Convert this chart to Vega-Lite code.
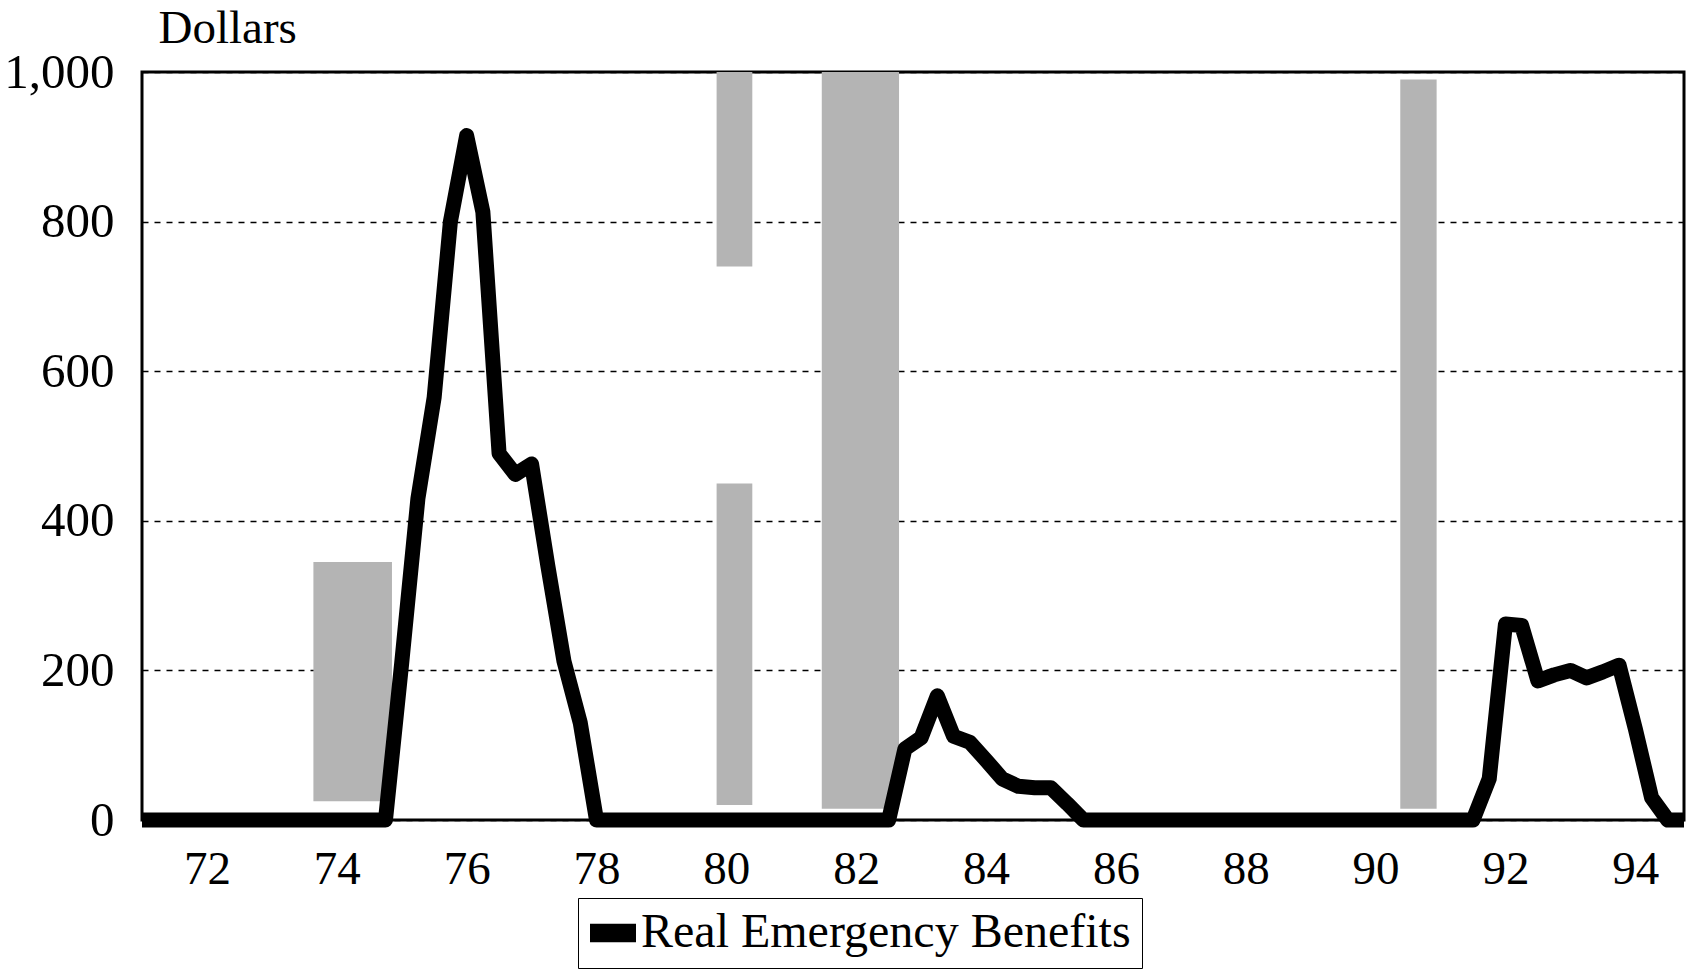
{
  "$schema": "https://vega.github.io/schema/vega-lite/v6.json",
  "width": 1542,
  "height": 748,
  "autosize": {"type": "none"},
  "padding": {"left": 142, "top": 72, "right": 20, "bottom": 154},
  "background": "white",
  "config": {
    "view": {"stroke": "black", "strokeWidth": 3},
    "font": "Liberation Serif",
    "axisX": {"grid": false, "ticks": false, "domain": false, "labelFontSize": 47, "labelFont": "Liberation Serif", "labelColor": "black", "labelPadding": 26, "labelFlush": false},
    "axisY": {"grid": true, "gridDash": [6, 6], "gridColor": "black", "gridWidth": 1.3, "gridOpacity": 1, "ticks": false, "domain": false, "labelFontSize": 49, "labelFont": "Liberation Serif", "labelColor": "black", "labelPadding": 28, "labelFlush": false, "titleFontSize": 47, "titleFont": "Liberation Serif", "titleFontWeight": "normal", "titleColor": "black", "titleAngle": 0, "titleAlign": "left", "titleBaseline": "alphabetic", "titleX": 16, "titleY": -30, "zindex": 1}
  },
  "datasets": {
    "bands": [
      {"start": 73.64, "end": 74.85, "lo": 25, "hi": 345},
      {"start": 79.85, "end": 80.4, "lo": 20, "hi": 450},
      {"start": 79.85, "end": 80.4, "lo": 740, "hi": 1000},
      {"start": 81.47, "end": 82.66, "lo": 15, "hi": 1000},
      {"start": 90.38, "end": 90.94, "lo": 15, "hi": 990}
    ],
    "benefits": [
      {"year": 71.0, "dollars": 0, "series": "Real Emergency Benefits"},
      {"year": 74.75, "dollars": 0, "series": "Real Emergency Benefits"},
      {"year": 75.0, "dollars": 210, "series": "Real Emergency Benefits"},
      {"year": 75.25, "dollars": 430, "series": "Real Emergency Benefits"},
      {"year": 75.5, "dollars": 565, "series": "Real Emergency Benefits"},
      {"year": 75.75, "dollars": 800, "series": "Real Emergency Benefits"},
      {"year": 76.0, "dollars": 915, "series": "Real Emergency Benefits"},
      {"year": 76.25, "dollars": 813, "series": "Real Emergency Benefits"},
      {"year": 76.5, "dollars": 490, "series": "Real Emergency Benefits"},
      {"year": 76.75, "dollars": 462, "series": "Real Emergency Benefits"},
      {"year": 77.0, "dollars": 476, "series": "Real Emergency Benefits"},
      {"year": 77.25, "dollars": 340, "series": "Real Emergency Benefits"},
      {"year": 77.5, "dollars": 212, "series": "Real Emergency Benefits"},
      {"year": 77.75, "dollars": 130, "series": "Real Emergency Benefits"},
      {"year": 78.0, "dollars": 0, "series": "Real Emergency Benefits"},
      {"year": 82.5, "dollars": 0, "series": "Real Emergency Benefits"},
      {"year": 82.75, "dollars": 95, "series": "Real Emergency Benefits"},
      {"year": 83.0, "dollars": 110, "series": "Real Emergency Benefits"},
      {"year": 83.25, "dollars": 166, "series": "Real Emergency Benefits"},
      {"year": 83.5, "dollars": 112, "series": "Real Emergency Benefits"},
      {"year": 83.75, "dollars": 104, "series": "Real Emergency Benefits"},
      {"year": 84.0, "dollars": 80, "series": "Real Emergency Benefits"},
      {"year": 84.25, "dollars": 55, "series": "Real Emergency Benefits"},
      {"year": 84.5, "dollars": 45, "series": "Real Emergency Benefits"},
      {"year": 84.75, "dollars": 43, "series": "Real Emergency Benefits"},
      {"year": 85.0, "dollars": 43, "series": "Real Emergency Benefits"},
      {"year": 85.25, "dollars": 22, "series": "Real Emergency Benefits"},
      {"year": 85.5, "dollars": 0, "series": "Real Emergency Benefits"},
      {"year": 91.5, "dollars": 0, "series": "Real Emergency Benefits"},
      {"year": 91.75, "dollars": 55, "series": "Real Emergency Benefits"},
      {"year": 92.0, "dollars": 262, "series": "Real Emergency Benefits"},
      {"year": 92.25, "dollars": 260, "series": "Real Emergency Benefits"},
      {"year": 92.5, "dollars": 186, "series": "Real Emergency Benefits"},
      {"year": 92.75, "dollars": 194, "series": "Real Emergency Benefits"},
      {"year": 93.0, "dollars": 200, "series": "Real Emergency Benefits"},
      {"year": 93.25, "dollars": 190, "series": "Real Emergency Benefits"},
      {"year": 93.5, "dollars": 198, "series": "Real Emergency Benefits"},
      {"year": 93.75, "dollars": 207, "series": "Real Emergency Benefits"},
      {"year": 94.0, "dollars": 122, "series": "Real Emergency Benefits"},
      {"year": 94.25, "dollars": 30, "series": "Real Emergency Benefits"},
      {"year": 94.5, "dollars": 0, "series": "Real Emergency Benefits"},
      {"year": 94.75, "dollars": 0, "series": "Real Emergency Benefits"}
    ]
  },
  "layer": [
    {
      "data": {"name": "bands"},
      "mark": {"type": "rect", "color": "#b4b4b4"},
      "encoding": {
        "x": {"field": "start", "type": "quantitative", "scale": {"domain": [71, 94.75], "nice": false, "zero": false}, "axis": {"values": [72, 74, 76, 78, 80, 82, 84, 86, 88, 90, 92, 94], "format": "d", "title": null}},
        "x2": {"field": "end"},
        "y": {"field": "lo", "type": "quantitative", "scale": {"domain": [0, 1000], "nice": false}, "axis": {"values": [0, 200, 400, 600, 800, 1000], "format": ",d", "title": "Dollars"}},
        "y2": {"field": "hi"}
      }
    },
    {
      "data": {"name": "benefits"},
      "mark": {"type": "line", "color": "black", "strokeWidth": 15, "strokeJoin": "round"},
      "encoding": {
        "x": {"field": "year", "type": "quantitative", "axis": {"values": [72, 74, 76, 78, 80, 82, 84, 86, 88, 90, 92, 94], "format": "d", "title": null}},
        "y": {"field": "dollars", "type": "quantitative", "axis": {"values": [0, 200, 400, 600, 800, 1000], "format": ",d", "title": "Dollars"}},
        "color": {
          "field": "series",
          "type": "nominal",
          "scale": {"range": ["black"]},
          "legend": {
            "title": null,
            "orient": "none",
            "legendX": 436,
            "legendY": 826,
            "direction": "horizontal",
            "labelFontSize": 48,
            "labelFont": "Liberation Serif",
            "labelColor": "black",
            "labelLimit": 0,
            "labelOffset": 4,
            "symbolType": "M-1,-0.4H1V0.4H-1Z",
            "symbolSize": 2116,
            "symbolFillColor": "black",
            "symbolStrokeColor": "black",
            "symbolStrokeWidth": 0,
            "strokeColor": "black",
            "padding": 11,
            "encode": {"symbols": {"update": {"fill": {"value": "black"}, "strokeWidth": {"value": 0}, "size": {"value": 2116}, "shape": {"value": "M-1,-0.4H1V0.4H-1Z"}}}}
          }
        }
      }
    }
  ]
}
